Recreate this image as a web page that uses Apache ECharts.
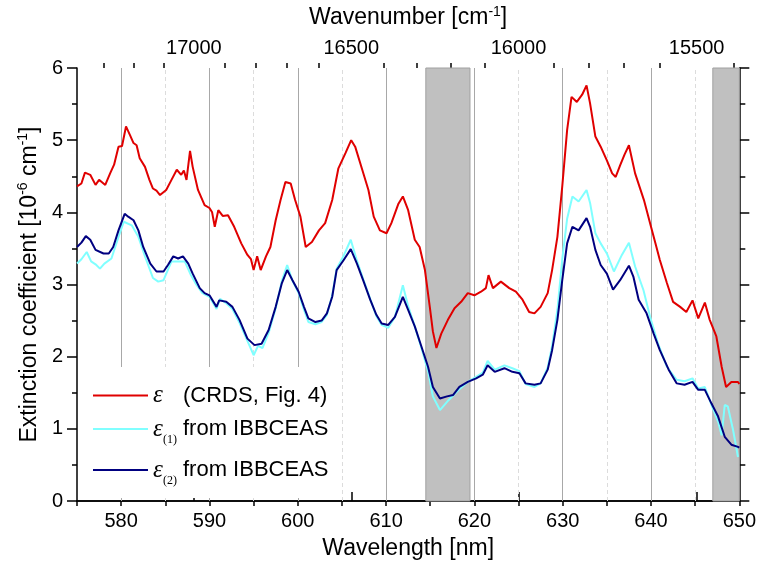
<!DOCTYPE html>
<html><head><meta charset="utf-8">
<script src="https://cdn.jsdelivr.net/npm/echarts@6/dist/echarts.min.js"></script>
<style>html,body{margin:0;padding:0;background:#fff}#c{width:759px;height:567px}</style>
</head><body><div id="c"></div>
<script>
// ---- data ----
const redWl = [575.0,575.5,575.9,576.5,577.1,577.5,577.8,578.2,578.75,579.2,579.7,580.1,580.55,581.0,581.4,581.75,582.1,582.7,583.2,583.6,584.0,584.4,585.1,585.7,586.3,586.8,587.1,587.4,587.8,588.1,588.7,589.45,590.0,590.3,590.6,591.0,591.5,592.1,592.8,593.6,594.3,594.7,595.0,595.4,595.8,596.4,596.9,597.5,598.05,598.6,599.2,599.7,600.3,600.9,601.6,602.4,603.1,603.9,604.6,605.4,606.05,606.5,607.25,608.0,608.6,609.3,610.05,610.6,611.4,611.9,612.5,613.25,613.8,614.4,614.95,615.3,615.7,616.25,617.0,617.75,618.5,619.25,620.0,620.75,621.3,621.6,622.1,623.0,623.95,624.7,625.45,626.2,626.8,627.5,628.3,628.8,629.4,629.95,630.5,631.0,631.6,632.2,632.7,633.1,633.7,634.3,635.0,635.6,636.0,636.5,637.0,637.5,638.2,639.2,640.0,640.5,641.0,641.8,642.5,643.3,644.0,644.7,645.35,646.1,646.65,647.4,648.0,648.5,649.1,649.85,650.0];
const redVal = [4.36,4.40,4.55,4.52,4.38,4.45,4.42,4.38,4.54,4.66,4.91,4.92,5.19,5.07,4.96,4.93,4.75,4.63,4.45,4.33,4.30,4.24,4.31,4.45,4.59,4.52,4.58,4.45,4.85,4.63,4.31,4.10,4.06,4.00,3.80,4.03,3.95,3.96,3.80,3.57,3.41,3.35,3.20,3.39,3.20,3.39,3.52,3.89,4.17,4.42,4.40,4.17,3.94,3.52,3.59,3.75,3.85,4.17,4.61,4.82,5.00,4.91,4.61,4.31,3.94,3.75,3.71,3.85,4.12,4.22,4.03,3.62,3.52,3.20,2.69,2.35,2.12,2.32,2.51,2.67,2.76,2.88,2.85,2.90,2.95,3.13,2.95,3.04,2.95,2.90,2.79,2.62,2.60,2.69,2.88,3.20,3.66,4.36,5.14,5.60,5.53,5.63,5.76,5.51,5.05,4.91,4.72,4.54,4.49,4.65,4.80,4.93,4.54,4.17,3.80,3.57,3.34,3.02,2.76,2.69,2.62,2.78,2.53,2.75,2.51,2.28,1.86,1.58,1.65,1.65,1.62];

const navyWl = [575.0,575.5,576.0,576.5,577.1,578.0,578.6,579.1,579.7,580.4,580.8,581.4,581.95,582.5,583.3,584.0,584.8,585.3,585.9,586.45,587.0,587.6,588.1,588.9,589.45,590.0,590.8,591.1,591.9,592.6,593.4,594.3,595.1,595.9,596.7,597.5,598.2,598.8,599.4,600.1,600.7,601.2,602.0,602.7,603.3,603.9,604.4,605.2,606.0,606.7,607.4,608.2,608.9,609.5,610.25,611.0,611.9,612.5,613.25,614.0,614.75,615.3,616.1,616.9,617.6,618.3,619.25,620.2,620.95,621.5,622.3,623.4,624.3,625.1,625.8,626.8,627.5,628.3,628.8,629.4,629.95,630.5,631.1,631.8,632.7,633.1,633.7,634.3,635.0,635.7,636.5,637.5,638.0,638.6,639.5,640.3,641.0,642.0,642.9,643.8,644.7,645.35,646.1,646.85,647.6,648.35,649.1,649.85,650.0];
const navyVal = [3.52,3.58,3.67,3.62,3.48,3.43,3.43,3.52,3.75,3.98,3.94,3.89,3.75,3.52,3.29,3.18,3.18,3.27,3.39,3.36,3.39,3.29,3.15,2.95,2.88,2.85,2.69,2.78,2.76,2.69,2.51,2.25,2.16,2.18,2.37,2.69,3.02,3.20,3.06,2.90,2.69,2.53,2.48,2.50,2.60,2.83,3.20,3.34,3.49,3.29,3.06,2.79,2.58,2.46,2.44,2.55,2.83,2.65,2.42,2.14,1.86,1.58,1.42,1.45,1.47,1.58,1.65,1.70,1.75,1.88,1.79,1.84,1.79,1.77,1.63,1.61,1.63,1.82,2.09,2.51,3.06,3.57,3.80,3.75,3.92,3.80,3.48,3.27,3.15,2.93,3.06,3.26,3.11,2.79,2.60,2.32,2.09,1.82,1.63,1.61,1.65,1.54,1.54,1.35,1.17,0.89,0.78,0.75,0.74];

const cyanWl = [575.0,575.5,576.1,576.6,577.1,577.6,578.1,578.9,579.7,580.3,581.2,581.95,582.7,583.6,584.2,584.8,585.7,586.45,587.2,587.9,588.5,589.2,590.0,590.8,591.2,591.9,592.6,593.4,594.3,595.0,595.5,596.0,596.7,597.5,598.2,598.8,599.4,600.1,600.7,601.2,602.0,602.7,603.3,603.9,604.4,605.2,606.0,606.7,607.4,608.2,608.9,609.5,610.25,611.0,611.9,612.5,613.25,614.0,614.75,615.3,616.1,617.1,618.3,619.25,620.2,620.95,621.5,622.3,623.4,624.3,625.1,625.8,626.8,627.5,628.3,628.8,629.4,629.95,630.5,631.1,631.8,632.7,633.1,633.7,634.3,635.0,635.8,636.7,637.5,638.2,639.15,639.9,640.8,641.8,642.9,643.8,644.7,645.35,646.1,646.85,647.6,648.0,648.35,648.7,649.3,649.85];
const cyanVal = [3.29,3.35,3.45,3.32,3.28,3.22,3.29,3.36,3.66,3.87,3.82,3.66,3.39,3.09,3.04,3.06,3.32,3.32,3.32,3.13,3.00,2.88,2.83,2.66,2.80,2.74,2.66,2.47,2.22,2.02,2.15,2.12,2.33,2.67,3.05,3.27,3.05,2.88,2.65,2.48,2.45,2.48,2.58,2.85,3.22,3.40,3.62,3.33,3.08,2.80,2.56,2.44,2.40,2.55,2.99,2.70,2.42,2.12,1.80,1.45,1.26,1.40,1.55,1.65,1.72,1.78,1.94,1.82,1.88,1.84,1.80,1.62,1.58,1.63,1.85,2.15,2.65,3.35,3.91,4.22,4.15,4.31,4.13,3.71,3.57,3.43,3.18,3.41,3.58,3.25,2.92,2.55,2.18,1.86,1.68,1.66,1.70,1.56,1.58,1.33,1.10,0.91,1.33,1.31,0.98,0.61];

const topMajor = [17000, 16500, 16000, 15500];
const topMinor = [17300,17200,17100,16900,16800,16700,16600,16400,16300,16200,16100,15900,15800,15700,15600,15400];
const solidGrid = [580, 590, 600, 610, 620, 630, 640];
const dashedGrid = [585, 595, 605, 615, 625, 635, 645];
const bands = [[614.5, 619.5], [647, 650]];

// ---- chart ----
const pairs = (xs, ys) => xs.map((x, i) => [x, ys[i]]);
const toWl = wn => 1e7 / wn;
const FONT = 'Liberation Sans';

const chart = echarts.init(document.getElementById('c'));

const richName = {
  a: {fontFamily: FONT, fontSize: 23, color: '#000', lineHeight: 26, verticalAlign: 'middle'},
  s: {fontFamily: FONT, fontSize: 14, color: '#000', lineHeight: 14, verticalAlign: 'top'}
};

const legendRich = {
  e: {fontFamily: 'Liberation Serif', fontStyle: 'italic', fontSize: 25, color: '#000', width: 10, verticalAlign: 'middle'},
  e0: {fontFamily: 'Liberation Serif', fontStyle: 'italic', fontSize: 25, color: '#000', width: 30, verticalAlign: 'middle'},
  s: {fontFamily: 'Liberation Serif', fontSize: 12, color: '#000', width: 20, lineHeight: 12, verticalAlign: 'bottom'},
  t: {fontFamily: FONT, fontSize: 22, color: '#000', verticalAlign: 'middle'}
};

const legendBase = {
  orient: 'vertical', selectedMode: false, itemWidth: 55, itemHeight: 2, icon: 'rect',
  textStyle: {fontFamily: FONT, fontSize: 22, color: '#000', rich: legendRich}
};

const option = {
  animation: false,
  backgroundColor: '#fff',
  grid: {left: 77, right: 16, top: 68, bottom: 66, containLabel: false},
  xAxis: [
    {
      type: 'value', position: 'bottom', min: 575, max: 650, interval: 5,
      name: 'Wavelength [nm]', nameLocation: 'middle', nameGap: 36,
      nameTextStyle: {fontFamily: FONT, fontSize: 23, color: '#000'},
      axisLine: {lineStyle: {color: '#000', width: 1.5}},
      axisTick: {length: 5, lineStyle: {color: '#000', width: 1.5}},
      axisLabel: {fontFamily: FONT, fontSize: 20, color: '#000', margin: 10,
        formatter: v => (v % 10 === 0 ? String(v) : '')},
      splitLine: {show: false}
    },
    {
      type: 'value', position: 'top', min: 575, max: 650,
      name: '{a|Wavenumber [cm}{s|-1}{a|]}', nameLocation: 'middle', nameGap: 37,
      nameTextStyle: {rich: richName},
      axisLine: {lineStyle: {color: '#000', width: 1.5}},
      axisTick: {length: 9, customValues: topMajor.map(toWl), lineStyle: {color: '#000', width: 1.5}},
      axisLabel: {fontFamily: FONT, fontSize: 20, color: '#000', margin: 10,
        customValues: topMajor.map(toWl), formatter: v => String(Math.round(1e7 / v))},
      splitLine: {show: false}
    },
    {
      type: 'value', position: 'top', min: 575, max: 650,
      axisLine: {show: false},
      axisTick: {length: 5, customValues: topMinor.map(toWl), lineStyle: {color: '#000', width: 1.5}},
      axisLabel: {show: false},
      splitLine: {show: false}
    }
  ],
  yAxis: [
    {
      type: 'value', position: 'left', min: 0, max: 6, interval: 1,
      name: '{a|Extinction coefficient [10}{s|-6}{a| cm}{s|-1}{a|]}', nameLocation: 'middle', nameGap: 34,
      nameTextStyle: {rich: richName},
      axisLine: {show: true, lineStyle: {color: '#000', width: 1.5}},
      axisTick: {show: true, length: 10, lineStyle: {color: '#000', width: 1.5}},
      minorTick: {show: true, splitNumber: 2, length: 5, lineStyle: {color: '#000', width: 1.5}},
      axisLabel: {fontFamily: FONT, fontSize: 20, color: '#000', margin: 14},
      splitLine: {show: false}
    },
    {
      type: 'value', position: 'right', min: 0, max: 6, interval: 1,
      axisLine: {show: true, lineStyle: {color: '#000', width: 1.5}},
      axisTick: {show: true, length: 10, lineStyle: {color: '#000', width: 1.5}},
      minorTick: {show: true, splitNumber: 2, length: 6, lineStyle: {color: '#000', width: 1.5}},
      axisLabel: {show: false},
      splitLine: {show: false}
    }
  ],
  legend: [
    Object.assign({}, legendBase, {
      data: ['CRDS'], left: 78, top: 367, padding: [16, 12, 90, 15],
      backgroundColor: '#fff', z: 4,
      formatter: () => '{e0|ε}{t|(CRDS, Fig. 4)}'
    }),
    Object.assign({}, legendBase, {
      data: ['IB1'], left: 93, top: 412, padding: 0, z: 5,
      textStyle: Object.assign({}, legendBase.textStyle, {lineHeight: 34}),
      formatter: () => '{e|ε}{s|(1)}{t|from IBBCEAS}'
    }),
    Object.assign({}, legendBase, {
      data: ['IB2'], left: 93, top: 453, padding: 0, z: 5,
      textStyle: Object.assign({}, legendBase.textStyle, {lineHeight: 34}),
      formatter: () => '{e|ε}{s|(2)}{t|from IBBCEAS}'
    })
  ],
  series: [
    {
      name: 'grid', type: 'line', data: [], z: 1, silent: true,
      markLine: {
        z: 1, silent: true, symbol: 'none', label: {show: false},
        data: solidGrid.map(x => ({xAxis: x, lineStyle: {color: '#a8a8a8', width: 1, type: 'solid'}}))
          .concat(dashedGrid.map(x => ({xAxis: x, lineStyle: {color: '#dcdcdc', width: 1, type: [4, 3]}})))
      }
    },
    {
      name: 'bands', type: 'line', data: [], z: 2, silent: true,
      markArea: {
        z: 2, silent: true, itemStyle: {color: '#c0c0c0', borderColor: '#a0a0a0', borderWidth: 1},
        data: bands.map(b => [{xAxis: b[0]}, {xAxis: b[1]}])
      }
    },
    {
      name: 'IB1', type: 'line', data: pairs(cyanWl, cyanVal), symbol: 'none', z: 3,
      lineStyle: {color: '#80ffff', width: 2}, itemStyle: {color: '#80ffff'}
    },
    {
      name: 'IB2', type: 'line', data: pairs(navyWl, navyVal), symbol: 'none', z: 3,
      lineStyle: {color: '#000080', width: 2}, itemStyle: {color: '#000080'}
    },
    {
      name: 'CRDS', type: 'line', data: pairs(redWl, redVal), symbol: 'none', z: 3,
      lineStyle: {color: '#e00000', width: 2}, itemStyle: {color: '#e00000'}
    }
  ]
};
chart.setOption(option);
</script>
</body></html>
